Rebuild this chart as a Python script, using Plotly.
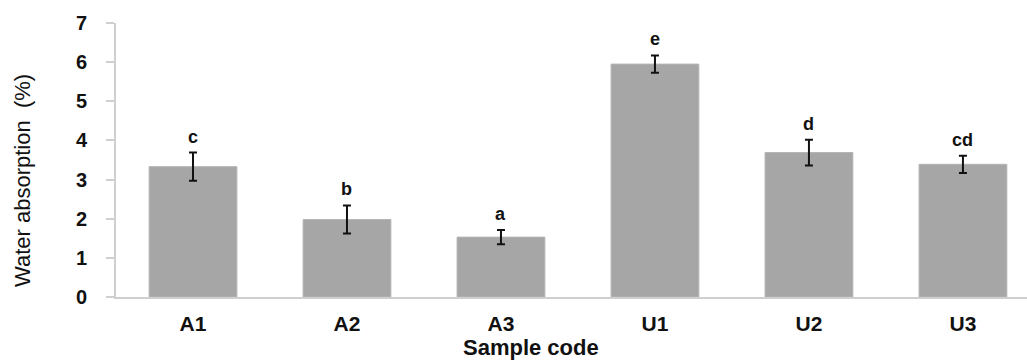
import plotly.graph_objects as go

# Water absorption per sample (mean, SD) with significance letters
samples = ["A1", "A2", "A3", "U1", "U2", "U3"]
absorption = [3.33, 1.98, 1.53, 5.95, 3.69, 3.39]
sd = [0.36, 0.36, 0.18, 0.22, 0.33, 0.22]
letters = ["c", "b", "a", "e", "d", "cd"]
y_ticks = [0, 1, 2, 3, 4, 5, 6, 7]

FONT = "Liberation Sans, Arial, sans-serif"
W, H = 1027, 362
ML, MR, MT, MB = 116, 0, 23, 65

fig = go.Figure()
fig.add_trace(go.Bar(
    x=samples,
    y=absorption,
    marker=dict(color="#a6a6a6", line=dict(color="#b4b4b4", width=1)),
    error_y=dict(type="data", array=sd, visible=True, color="#111111",
                 thickness=2, width=4),
    showlegend=False,
))

annotations = []
for s, v, e, t in zip(samples, absorption, sd, letters):
    annotations.append(dict(
        x=s, y=v + e, xref="x", yref="y", text=f"<b>{t}</b>",
        showarrow=False, yanchor="bottom", yshift=4,
        font=dict(family=FONT, size=18, color="#111111"),
    ))

plot_w = W - ML - MR
plot_h = H - MT - MB
annotations.append(dict(
    x=(22 - ML) / plot_w, y=(H - MB - 181) / plot_h, xref="paper", yref="paper",
    text="Water absorption  (%)", textangle=-90, showarrow=False,
    xanchor="center", yanchor="middle",
    font=dict(family=FONT, size=22, color="#111111"),
))
annotations.append(dict(
    x=(531 - ML) / plot_w, y=-(337 - (H - MB)) / plot_h,
    xref="paper", yref="paper", text="<b>Sample code</b>", showarrow=False,
    xanchor="center", yanchor="top", yshift=4,
    font=dict(family=FONT, size=22, color="#111111"),
))

fig.update_layout(
    width=W, height=H,
    margin=dict(l=ML, r=MR, t=MT, b=MB, pad=0),
    plot_bgcolor="white", paper_bgcolor="white",
    bargap=0.43,
    annotations=annotations,
    xaxis=dict(
        range=[-0.5, 5.416], showgrid=False, zeroline=False,
        showline=True, linecolor="#cfcfcf", linewidth=2,
        ticks="", ticklabelstandoff=7,
        tickfont=dict(family=FONT, size=21, color="#111111", weight="bold"),
    ),
    yaxis=dict(
        range=[0, 7], tickvals=y_ticks, showgrid=False, zeroline=False,
        showline=True, linecolor="#cfcfcf", linewidth=2,
        ticks="outside", ticklen=8, tickcolor="#cfcfcf", tickwidth=2,
        ticklabelstandoff=15,
        tickfont=dict(family=FONT, size=20, color="#111111", weight="bold"),
    ),
)

fig.write_html("out.html")
